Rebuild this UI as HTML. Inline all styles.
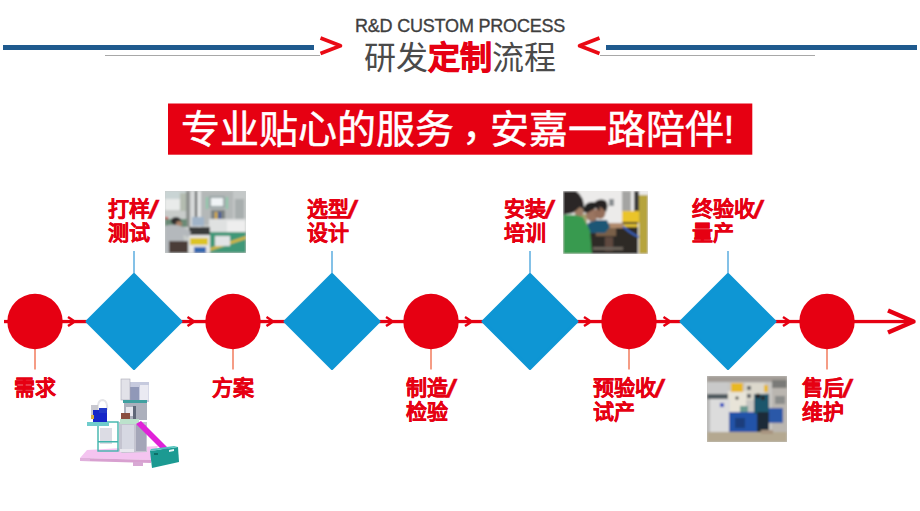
<!DOCTYPE html>
<html lang="zh-CN">
<head>
<meta charset="utf-8">
<style>
html,body{margin:0;padding:0;background:#fff;}
body{width:920px;height:511px;position:relative;overflow:hidden;font-family:"Liberation Sans",sans-serif;}
.abs{position:absolute;white-space:nowrap;}
.lbl{position:absolute;white-space:nowrap;color:#e60012;font-weight:bold;font-size:21px;line-height:24.5px;-webkit-text-stroke:0.3px #e60012;}
.sl{display:inline-block;font-size:25px;line-height:20px;vertical-align:-2px;transform:skewX(-12deg) scaleX(1.2);-webkit-text-stroke:0.3px #e60012;}
</style>
</head>
<body>
<svg class="abs" style="left:0;top:0" width="920" height="511" viewBox="0 0 920 511">
  <!-- header bars -->
  <rect x="3" y="45" width="311" height="5" fill="#1f5a8e"/>
  <rect x="606" y="45" width="311" height="5" fill="#1f5a8e"/>
  <rect x="105" y="55" width="215" height="1" fill="#a8a8a8"/>
  <rect x="600" y="55" width="215" height="1" fill="#a8a8a8"/>
  <polyline points="320.5,38 340.5,45.8 320.5,53.5" fill="none" stroke="#ea0a14" stroke-width="3.6" stroke-linejoin="round"/>
  <polyline points="599.5,38 579.5,45.8 599.5,53.5" fill="none" stroke="#ea0a14" stroke-width="3.6" stroke-linejoin="round"/>
  <!-- banner -->
  <rect x="168" y="103.5" width="584.3" height="51.2" fill="#e60012"/>

  <!-- main line -->
  <rect x="4" y="319.9" width="906" height="3.3" fill="#e60012"/>
  <polyline points="888,310.5 913.5,321.5 888,332.5" fill="none" stroke="#e60012" stroke-width="4.5" stroke-linejoin="round"/>

  <!-- vertical connectors -->
  <g fill="#66b2e2">
    <rect x="133.2" y="251" width="1.6" height="23"/>
    <rect x="331.2" y="251" width="1.6" height="23"/>
    <rect x="529.2" y="251" width="1.6" height="23"/>
    <rect x="727.2" y="251" width="1.6" height="23"/>
  </g>
  <g fill="#f38468">
    <rect x="34.2" y="347" width="1.6" height="22.5"/>
    <rect x="232.2" y="347" width="1.6" height="22.5"/>
    <rect x="430.2" y="347" width="1.6" height="22.5"/>
    <rect x="628.2" y="347" width="1.6" height="22.5"/>
    <rect x="826.2" y="347" width="1.6" height="22.5"/>
  </g>

  <!-- small arrowheads -->
  <g fill="none" stroke="#e60012" stroke-width="2.5" stroke-linejoin="round">
    <path d="M68,317 Q72,319.5 74.5,321.5 Q72,323.5 68,326"/>
    <path d="M187.5,317 Q191.5,319.5 194.0,321.5 Q191.5,323.5 187.5,326"/>
    <path d="M266.5,317 Q270.5,319.5 273.0,321.5 Q270.5,323.5 266.5,326"/>
    <path d="M386,317 Q390,319.5 392.5,321.5 Q390,323.5 386,326"/>
    <path d="M465,317 Q469,319.5 471.5,321.5 Q469,323.5 465,326"/>
    <path d="M584,317 Q588,319.5 590.5,321.5 Q588,323.5 584,326"/>
    <path d="M663.5,317 Q667.5,319.5 670.0,321.5 Q667.5,323.5 663.5,326"/>
    <path d="M783,317 Q787,319.5 789.5,321.5 Q787,323.5 783,326"/>
  </g>

  <!-- diamonds -->
  <g fill="#0e96d4" stroke="#0e96d4" stroke-width="3" stroke-linejoin="round">
    <polygon points="134,274.5 181,321.5 134,368.5 87,321.5"/>
    <polygon points="332,274.5 379,321.5 332,368.5 285,321.5"/>
    <polygon points="530,274.5 577,321.5 530,368.5 483,321.5"/>
    <polygon points="728,274.5 775,321.5 728,368.5 681,321.5"/>
  </g>
  <!-- circles -->
  <g fill="#e60012">
    <circle cx="35" cy="321.5" r="27.7"/>
    <circle cx="233" cy="321.5" r="27.7"/>
    <circle cx="431" cy="321.5" r="27.7"/>
    <circle cx="629" cy="321.5" r="27.7"/>
    <circle cx="827" cy="321.5" r="27.7"/>
  </g>
</svg>

<div class="abs" style="left:355px;top:16px;font-size:18px;letter-spacing:-0.2px;color:#3e3e3e;-webkit-text-stroke:0.35px #3e3e3e;">R&amp;D CUSTOM PROCESS</div>
<div class="abs" style="left:364px;top:35px;font-size:32px;color:#4a4a4a;line-height:46px;">研发<span style="color:#e60012;font-weight:bold;-webkit-text-stroke:0.8px #e60012">定制</span>流程</div>
<div class="abs" style="left:181px;top:102px;font-size:39px;color:#fff;-webkit-text-stroke:0.5px #fff;line-height:55px;">专业贴心的服务<span style="position:relative;left:8px;top:-3px;margin-right:-3.5px">，</span>安嘉一路陪伴!</div>

<div class="lbl" style="left:108px;top:196.5px;">打样<span class="sl">/</span><br>测试</div>
<div class="lbl" style="left:307px;top:196.5px;">选型<span class="sl">/</span><br>设计</div>
<div class="lbl" style="left:504px;top:196.5px;">安装<span class="sl">/</span><br>培训</div>
<div class="lbl" style="left:692px;top:196.5px;">终验收<span class="sl">/</span><br>量产</div>

<div class="lbl" style="left:13.5px;top:375.5px;">需求</div>
<div class="lbl" style="left:212px;top:375.5px;">方案</div>
<div class="lbl" style="left:406px;top:375.5px;">制造<span class="sl">/</span><br>检验</div>
<div class="lbl" style="left:593px;top:375.5px;">预验收<span class="sl">/</span><br>试产</div>
<div class="lbl" style="left:802px;top:375.5px;">售后<span class="sl">/</span><br>维护</div>


<!-- photo 1: testing -->
<svg class="abs" style="left:165px;top:191px" width="81" height="62" viewBox="0 0 81 62">
  <defs><filter id="bl1" x="-5%" y="-5%" width="110%" height="110%"><feGaussianBlur stdDeviation="0.8"/></filter></defs>
  <rect width="81" height="62" fill="#c8ccca"/>
  <g filter="url(#bl1)">
  <rect x="-1" y="-1" width="83" height="64" fill="#c8ccca"/>
  <rect x="0" y="0" width="30" height="8" fill="#c9d4d4"/>
  <rect x="0" y="8" width="15" height="11" fill="#e9ebea"/>
  <rect x="15" y="2" width="6" height="18" fill="#b4bcb0"/>
  <rect x="21" y="0" width="4" height="36" fill="#8d928f"/>
  <rect x="25" y="0" width="8" height="36" fill="#d6d8d8"/>
  <rect x="30" y="0" width="2" height="30" fill="#4a4e50"/>
  <rect x="33" y="0" width="3" height="36" fill="#e2e4e4"/>
  <rect x="36" y="0" width="32" height="34" fill="#b4b8b8"/>
  <rect x="44" y="5" width="16" height="12" fill="#98a4a4"/>
  <rect x="46" y="7" width="12" height="8" fill="#f0f4f6"/>
  <rect x="41" y="6" width="2" height="12" fill="#88c8a8"/>
  <rect x="61" y="6" width="2" height="12" fill="#88c8a8"/>
  <rect x="46" y="19" width="14" height="12" fill="#7c8282"/>
  <rect x="50" y="21" width="2" height="8" fill="#e0b030"/>
  <rect x="54" y="21" width="2" height="8" fill="#3050a0"/>
  <rect x="68" y="0" width="13" height="34" fill="#c4c8c8"/>
  <rect x="70" y="8" width="9" height="24" fill="#a8aeae"/>
  <rect x="44" y="28" width="37" height="13" fill="#dfe1e1"/>
  <rect x="62" y="30" width="18" height="12" fill="#eeeeee"/>
  <rect x="45" y="41" width="36" height="21" fill="#3f9878"/>
  <polygon points="45,57 81,45 81,48 45,60" fill="#d8b840"/>
  <rect x="50" y="45" width="15" height="10" fill="#e2e4e6"/>
  <rect x="0" y="26" width="3" height="9" fill="#c82828"/>
  <rect x="0" y="28" width="22" height="8" fill="#6a8a76"/>
  <rect x="24" y="37" width="21" height="25" fill="#e6e6e6"/>
  <rect x="24" y="36" width="21" height="8" fill="#3a3c3e"/>
  <rect x="25" y="47" width="18" height="7" fill="#dcc428"/>
  <rect x="29" y="56" width="12" height="6" fill="#3468b0"/>
  <rect x="27" y="26" width="12" height="9" fill="#a0b4c8"/>
  <ellipse cx="11" cy="30" rx="5" ry="4" fill="#2e2e2e"/>
  <ellipse cx="14" cy="33" rx="3" ry="3" fill="#a88068"/>
  <path d="M0,35 Q9,32 18,36 L26,41 L24,46 L18,44 L22,62 L0,62 Z" fill="#b4b8bc"/>
  <rect x="4" y="50" width="19" height="12" fill="#4c3e38"/>
  </g>
</svg>

<!-- photo 3: training -->
<svg class="abs" style="left:563px;top:191px" width="85" height="63" viewBox="0 0 85 63">
  <defs><filter id="bl3" x="-5%" y="-5%" width="110%" height="110%"><feGaussianBlur stdDeviation="0.8"/></filter></defs>
  <rect width="85" height="63" fill="#e8e8e6"/>
  <g filter="url(#bl3)">
  <rect x="-1" y="-1" width="87" height="65" fill="#ecebea"/>
  <rect x="46" y="8" width="5" height="7" fill="#8a8e92"/>
  <rect x="59" y="0" width="9" height="20" fill="#a4a4a2"/>
  <rect x="71" y="0" width="5" height="22" fill="#3a3a3a"/>
  <rect x="59" y="20" width="17" height="12" fill="#eac42a"/>
  <rect x="59" y="31" width="16" height="2" fill="#2a2a2a"/>
  <rect x="60" y="33" width="15" height="3" fill="#e0c030"/>
  <rect x="76" y="4" width="9" height="59" fill="#b6a43e"/>
  <rect x="27" y="36" width="48" height="27" fill="#2e2a28"/>
  <rect x="33" y="37" width="20" height="8" fill="#7a6048"/>
  <rect x="42" y="46" width="8" height="14" fill="#5e4a40"/>
  <rect x="30" y="56" width="30" height="3" fill="#6a625a"/>
  <path d="M58,33 Q66,42 76,46" stroke="#3a6ad0" stroke-width="1.8" fill="none"/>
  <rect x="40" y="32" width="20" height="5" fill="#b08a6c"/>
  <path d="M24,33 L30,29 L44,29 L47,36 L42,42 L26,42 Z" fill="#1c5674"/>
  <rect x="14" y="23" width="10" height="11" fill="#a8a070"/>
  <ellipse cx="29" cy="24" rx="6" ry="6.5" fill="#9a7460"/>
  <ellipse cx="37" cy="22" rx="5.5" ry="6" fill="#946e5a"/>
  <path d="M20,21 Q21,10 30,11 Q37,12 37,20 L33,17 L24,22 Z" fill="#242220"/>
  <path d="M30,13 Q36,6 43,10 Q46,14 43,21 L39,17 Z" fill="#262422"/>
  <ellipse cx="16" cy="21" rx="4.5" ry="5" fill="#9c7a62"/>
  <path d="M0,0 L13,0 Q22,6 21,19 L17,16 L10,22 L0,24 Z" fill="#2a2826"/>
  <path d="M0,24 Q12,23 20,26 L27,40 L29,63 L0,63 Z" fill="#379a50"/>
  </g>
</svg>

<!-- photo 4: after-sales -->
<svg class="abs" style="left:707px;top:376px" width="80" height="66" viewBox="0 0 80 66">
  <defs><filter id="bl4" x="-5%" y="-5%" width="110%" height="110%"><feGaussianBlur stdDeviation="0.8"/></filter></defs>
  <rect width="80" height="66" fill="#c4c2be"/>
  <g filter="url(#bl4)">
  <rect x="-1" y="-1" width="82" height="68" fill="#c8c6c2"/>
  <rect x="0" y="0" width="80" height="6" fill="#a29c96"/>
  <rect x="0" y="6" width="21" height="12" fill="#c9c9c9"/>
  <rect x="0" y="18" width="21" height="5" fill="#505a5e"/>
  <rect x="38" y="7" width="20" height="17" fill="#dcd8cc"/>
  <rect x="40" y="10" width="4" height="4" fill="#606468"/>
  <rect x="40" y="18" width="4" height="4" fill="#606468"/>
  <rect x="57" y="9" width="4" height="7" fill="#e6b828"/>
  <rect x="65" y="4" width="15" height="8" fill="#7a7a78"/>
  <rect x="65" y="12" width="15" height="44" fill="#bab6b0"/>
  <rect x="68" y="20" width="10" height="8" fill="#8a8c8a"/>
  <rect x="21" y="15" width="18" height="24" fill="#e8e4d8"/>
  <rect x="24" y="7" width="12" height="9" fill="#e8b820"/>
  <circle cx="30" cy="22" r="1.6" fill="#222"/>
  <rect x="33" y="30" width="8" height="7" fill="#6a9a90"/>
  <rect x="0" y="23" width="23" height="43" fill="#dcdcdc"/>
  <rect x="0" y="23" width="3" height="40" fill="#b8b8b8"/>
  <rect x="13" y="27" width="4" height="4" fill="#3050c0"/>
  <rect x="22" y="36" width="29" height="22" fill="#2152a8"/>
  <rect x="28" y="42" width="10" height="10" fill="#1a3c7c"/>
  <rect x="61" y="32" width="15" height="15" fill="#2a58a8"/>
  <rect x="0" y="56" width="80" height="10" fill="#b4a890"/>
  <rect x="47" y="18" width="15" height="20" fill="#1f566c"/>
  <rect x="50" y="36" width="12" height="20" fill="#1c2a38"/>
  <circle cx="51" cy="20" r="2.4" fill="#202020"/>
  <circle cx="56" cy="22" r="2.2" fill="#2a2a2a"/>
  <rect x="54" y="54" width="12" height="4" fill="#a89480"/>
  </g>
</svg>

<!-- machine CAD illustration -->
<svg class="abs" style="left:70px;top:365px" width="120" height="110" viewBox="0 0 120 110">
  <defs><filter id="blm" x="-5%" y="-5%" width="110%" height="110%"><feGaussianBlur stdDeviation="0.35"/></filter></defs>
  <g filter="url(#blm)">
  <!-- pink base -->
  <polygon points="17,85 88,81 82,95 10,93" fill="#f4c4f0"/>
  <polygon points="10,93 82,95 81,98 10,96" fill="#d8a0d0"/>
  <rect x="10" y="93" width="10" height="3" fill="#e0b0dc"/>
  <rect x="63" y="97" width="10" height="4" fill="#d8a8d4"/>
  <!-- table -->
  <rect x="28" y="57" width="20" height="29" fill="none" stroke="#40b4ac" stroke-width="1.4"/>
  <rect x="30" y="63" width="12" height="16" fill="#dcdce4"/>
  <rect x="28" y="76" width="20" height="1.5" fill="#40b4ac"/>
  <rect x="17" y="57" width="22" height="4" fill="#70cccc"/>
  <!-- column base -->
  <polygon points="49,57 77,57 77,87 52,88 49,86" fill="#c4c4d0"/>
  <rect x="52" y="60" width="12" height="26" fill="#d6d8e2"/>
  <rect x="66" y="60" width="10" height="26" fill="#a4a6b8"/>
  <rect x="50" y="84" width="14" height="3" fill="#e8e8ee"/>
  <!-- column upper -->
  <rect x="59" y="17" width="20" height="20" fill="#c6cade"/>
  <rect x="60" y="22" width="9" height="14" fill="#9098b8"/>
  <rect x="70" y="20" width="8.5" height="15" fill="#eaeaf2"/>
  <rect x="51" y="14" width="9" height="21" fill="#e2e2e8" stroke="#a8a8b4" stroke-width="0.6"/>
  <rect x="53" y="35" width="24" height="3" fill="#40a0a0"/>
  <rect x="54" y="38" width="23" height="17" fill="#acb0bc"/>
  <rect x="56" y="42" width="7" height="9" fill="#e8e8ee"/>
  <rect x="63" y="41" width="3" height="16" fill="#606878"/>
  <rect x="51" y="48" width="9" height="6" fill="#8a5040"/>
  <rect x="50" y="54" width="19" height="5" fill="#bce2cc"/>
  <!-- robot arm -->
  <path d="M28,45 Q27,35 33,35 Q38,36 37,45" fill="none" stroke="#e4e4e8" stroke-width="2"/>
  <rect x="21" y="40" width="7" height="12" fill="#c8c8d0"/>
  <rect x="23" y="45" width="14" height="12" fill="#1828c8"/>
  <rect x="29" y="43" width="8" height="5" fill="#2438c8"/>
  <rect x="21" y="50" width="3" height="4" fill="#d8b040"/>
  <!-- chute -->
  <polygon points="66,59 71,56 101,86 96,89" fill="#e020d8"/>
  <!-- bin -->
  <polygon points="80,86 108,82 109,97 82,103" fill="#1a9a92"/>
  <polygon points="80,86 108,82 104,81 81,84" fill="#50c4bc"/>
  <rect x="84" y="88" width="4" height="2" fill="#0c6e68"/>
  <polygon points="99,85 104,84 104,86 99,87" fill="#e8f4f4"/>
  </g>
</svg>
</body>
</html>
